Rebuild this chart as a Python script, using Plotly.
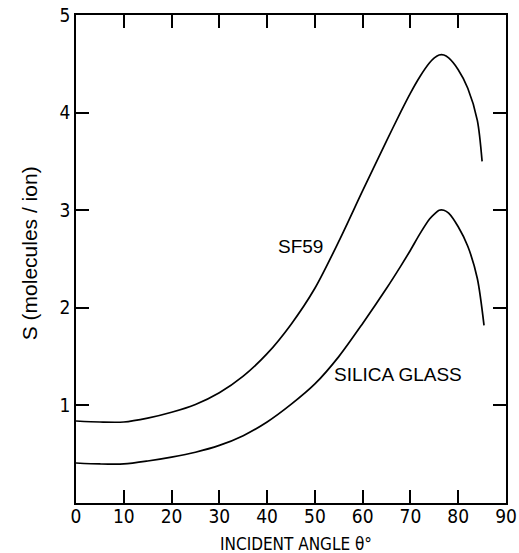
import plotly.graph_objects as go

# Incident angle (degrees) and sputtering yield S (molecules/ion)
sf59_angle = [0, 5, 10, 15, 20, 25, 30, 35, 40, 45, 50, 55, 60, 65, 68, 70, 72, 74, 75, 76, 77, 78, 80, 82, 84, 85]
sf59_s = [0.84, 0.83, 0.83, 0.87, 0.93, 1.01, 1.13, 1.30, 1.53, 1.83, 2.20, 2.68, 3.20, 3.71, 4.01, 4.20, 4.37, 4.51, 4.56, 4.59, 4.59, 4.56, 4.44, 4.25, 3.92, 3.50]

silica_angle = [0, 5, 10, 15, 20, 25, 30, 35, 40, 45, 50, 55, 60, 65, 68, 70, 72, 74, 75, 76, 77, 78, 80, 82, 84, 85.4]
silica_s = [0.41, 0.40, 0.40, 0.43, 0.47, 0.52, 0.59, 0.69, 0.83, 1.01, 1.22, 1.50, 1.84, 2.20, 2.43, 2.59, 2.76, 2.91, 2.96, 3.00, 3.00, 2.97, 2.83, 2.63, 2.30, 1.82]

x_ticks = [0, 10, 20, 30, 40, 50, 60, 70, 80, 90]
y_ticks = [1, 2, 3, 4, 5]

labels = ["SF59", "SILICA GLASS"]
label_x = [46.9, 67.4]
label_y = [2.63, 1.32]

x_title = "INCIDENT ANGLE θ°"
y_title = "S (molecules / ion)"

narrow = "DejaVu Sans Condensed, Liberation Sans Narrow, Liberation Sans, Arial, sans-serif"
sans = "Liberation Sans, Arial, sans-serif"

fig = go.Figure()
for xs, ys in [(sf59_angle, sf59_s), (silica_angle, silica_s)]:
    fig.add_trace(go.Scatter(x=xs, y=ys, mode="lines",
                             line=dict(color="black", width=1.7, shape="spline", smoothing=0.8),
                             showlegend=False, hoverinfo="skip"))

for t, lx, ly in zip(labels, label_x, label_y):
    fig.add_annotation(x=lx, y=ly, text=t, showarrow=False,
                       font=dict(family=sans, size=19, color="black"))

# axis titles as paper-anchored annotations
fig.add_annotation(xref="paper", yref="paper", x=0.512, y=-0.083, text=x_title,
                   showarrow=False, xanchor="center", yanchor="middle",
                   font=dict(family=narrow, size=17, color="black"))
fig.add_annotation(xref="paper", yref="paper", x=-0.109, y=0.512, text=y_title,
                   showarrow=False, xanchor="center", yanchor="middle", textangle=-90,
                   font=dict(family=sans, size=21, color="black"))

fig.update_layout(
    width=519, height=553,
    margin=dict(l=76, r=13, t=15, b=50),
    paper_bgcolor="white", plot_bgcolor="white",
    showlegend=False,
)
fig.update_xaxes(
    range=[0, 90], tickvals=x_ticks, ticktext=[str(v) for v in x_ticks],
    showline=True, linecolor="black", linewidth=1.6, mirror="ticks",
    ticks="inside", ticklen=13, tickwidth=1.6, tickcolor="black",
    showgrid=False, zeroline=False, automargin=False, ticklabelstandoff=-5,
    tickfont=dict(family=narrow, size=19, color="black"),
)
fig.update_yaxes(
    range=[0, 5], tickvals=y_ticks, ticktext=[str(v) for v in y_ticks],
    showline=True, linecolor="black", linewidth=1.6, mirror="ticks",
    ticks="inside", ticklen=13, tickwidth=1.6, tickcolor="black",
    showgrid=False, zeroline=False, automargin=False,
    tickfont=dict(family=narrow, size=19, color="black"),
)

fig.write_html("out.html")
